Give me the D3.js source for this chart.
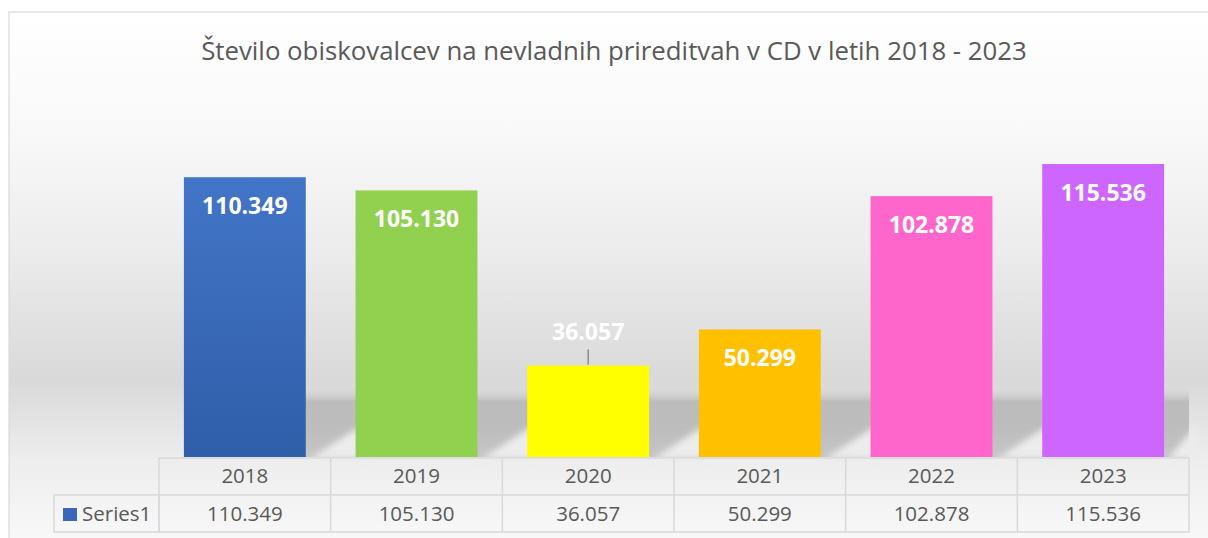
<!DOCTYPE html>
<html><head><meta charset="utf-8">
<script src="https://cdn.jsdelivr.net/npm/d3@7"></script>
<style>html,body{margin:0;padding:0;background:#fff;}svg{display:block;}</style>
</head><body>
<svg id="chart" width="1208" height="538"></svg>
<script>
const title = "Število obiskovalcev na nevladnih prireditvah v CD v letih 2018 - 2023";
const seriesName = "Series1";
const years = ["2018", "2019", "2020", "2021", "2022", "2023"];
const values = [110349, 105130, 36057, 50299, 102878, 115536];
const barColors = ["#3b6dbf", "#92d050", "#ffff00", "#ffc000", "#ff66cc", "#cc66ff"];
const labelOutside = [false, false, true, false, false, false];

const W = 1208, H = 538;
const svg = d3.select("#chart");
const defs = svg.append("defs");
const fmt = d3.formatLocale({decimal: ",", thousands: ".", grouping: [3], currency: ["", "€"]}).format(",d");

// background gradient
const bg = defs.append("linearGradient").attr("id", "bg").attr("x1", 0).attr("x2", 0)
  .attr("gradientUnits", "userSpaceOnUse").attr("y1", 12).attr("y2", H);
[[0, "#ffffff"], [0.22, "#f9f9f9"], [0.45, "#ececec"], [0.7, "#d9d9d9"], [0.85, "#ededed"], [1, "#f8f8f8"]]
  .forEach(([o, c]) => bg.append("stop").attr("offset", o).attr("stop-color", c));

svg.append("rect").attr("x", 9).attr("y", 12).attr("width", W).attr("height", H)
  .attr("fill", "url(#bg)").attr("stroke", "#d9d9d9").attr("stroke-width", 1.2);

const x = d3.scaleBand().domain(years).range([159, 1189]).paddingInner(0.29).paddingOuter(0.145);
const y = d3.scaleLinear().domain([0, 140000]).range([457, 102]);

// floor shadow band
const sh = defs.append("linearGradient").attr("id", "shadow").attr("x1", 0).attr("x2", 0).attr("y1", 0).attr("y2", 1);
[[0, "#d9d9d9", 0], [0.22, "#bcbcbc", 1], [0.6, "#bdbdbd", 1], [1, "#c6c6c6", 1]]
  .forEach(([o, c, a]) => sh.append("stop").attr("offset", o).attr("stop-color", c).attr("stop-opacity", a));
const blur = defs.append("filter").attr("id", "blur").attr("x", "-10%").attr("y", "-30%").attr("width", "120%").attr("height", "160%");
blur.append("feGaussianBlur").attr("stdDeviation", 3);

const bandTop = y(28000), bandBot = y(0);
svg.append("rect").attr("x", x(years[0]) + 4).attr("y", bandTop)
  .attr("width", x.range()[1] - x(years[0]) - 4).attr("height", bandBot - bandTop)
  .attr("fill", "url(#shadow)");

// light diagonal streaks in each gap
const gapG = svg.append("g").attr("filter", "url(#blur)");
years.forEach((yr, i) => {
  const gx0 = x(yr) + x.bandwidth();
  const gx1 = i < years.length - 1 ? x(years[i + 1]) : x.range()[1];
  gapG.append("path")
    .attr("d", `M${gx0 + 4},${bandBot + 2} L${gx1 + 8},${y(13000)} L${gx1 + 8},${bandBot + 2} Z`)
    .attr("fill", "#ececec");
});

// bar gradient for first bar
const bg1 = defs.append("linearGradient").attr("id", "bar0").attr("x1", 0).attr("x2", 0).attr("y1", 0).attr("y2", 1);
bg1.append("stop").attr("offset", 0).attr("stop-color", "#4375c7");
bg1.append("stop").attr("offset", 1).attr("stop-color", "#2f5ea9");

svg.append("g").selectAll("rect").data(values).join("rect")
  .attr("x", (d, i) => x(years[i])).attr("y", d => y(d))
  .attr("width", x.bandwidth()).attr("height", d => y(0) - y(d))
  .attr("fill", (d, i) => i === 0 ? "url(#bar0)" : barColors[i]);

// data labels
const lab = svg.append("g").attr("font-family", "'Open Sans', sans-serif").attr("font-weight", "bold")
  .attr("font-size", 23).attr("fill", "#ffffff").attr("text-anchor", "middle");
values.forEach((d, i) => {
  const cx = x(years[i]) + x.bandwidth() / 2;
  if (labelOutside[i]) {
    lab.append("text").attr("x", cx).attr("y", y(d) - 26).text(fmt(d));
    svg.append("line").attr("x1", cx).attr("x2", cx).attr("y1", y(d) - 16).attr("y2", y(d) - 1)
      .attr("stroke", "#7f7f7f").attr("stroke-width", 1.3);
  } else {
    lab.append("text").attr("x", cx).attr("y", y(d) + 37).text(fmt(d));
  }
});

// title
svg.append("text").attr("x", 614).attr("y", 60).attr("text-anchor", "middle")
  .attr("font-family", "'Open Sans', sans-serif").attr("font-size", 25.8).attr("fill", "#595959").text(title);

// data table
const tbl = svg.append("g").attr("stroke", "#d9d9d9").attr("stroke-width", 1.5).attr("fill", "none");
const r0 = 458, r1 = 495, r2 = 532;
const step = x.step();
const colEdges = years.map(yr => x(yr) - x.paddingInner() * step / 2);
colEdges.push(x.range()[1]);
tbl.append("rect").attr("x", 54).attr("y", r1).attr("width", colEdges[0] - 54).attr("height", r2 - r1);
tbl.append("rect").attr("x", colEdges[0]).attr("y", r0).attr("width", colEdges[6] - colEdges[0]).attr("height", r2 - r0);
tbl.append("line").attr("x1", colEdges[0]).attr("x2", colEdges[6]).attr("y1", r1).attr("y2", r1);
colEdges.slice(1, 6).forEach(cx => tbl.append("line").attr("x1", cx).attr("x2", cx).attr("y1", r0).attr("y2", r2));

const tt = svg.append("g").attr("font-family", "'Open Sans', sans-serif").attr("font-size", 20.5)
  .attr("fill", "#595959").attr("text-anchor", "middle");
years.forEach((yr, i) => {
  const cx = x(yr) + x.bandwidth() / 2;
  tt.append("text").attr("x", cx).attr("y", 483).text(yr);
  tt.append("text").attr("x", cx).attr("y", 521).text(fmt(values[i]));
});
svg.append("rect").attr("x", 63).attr("y", 508).attr("width", 14).attr("height", 13).attr("fill", "#3a68b9");
svg.append("text").attr("x", 82).attr("y", 521).attr("font-family", "'Open Sans', sans-serif").attr("font-size", 20.5)
  .attr("fill", "#595959").text(seriesName);
</script>
</body></html>
